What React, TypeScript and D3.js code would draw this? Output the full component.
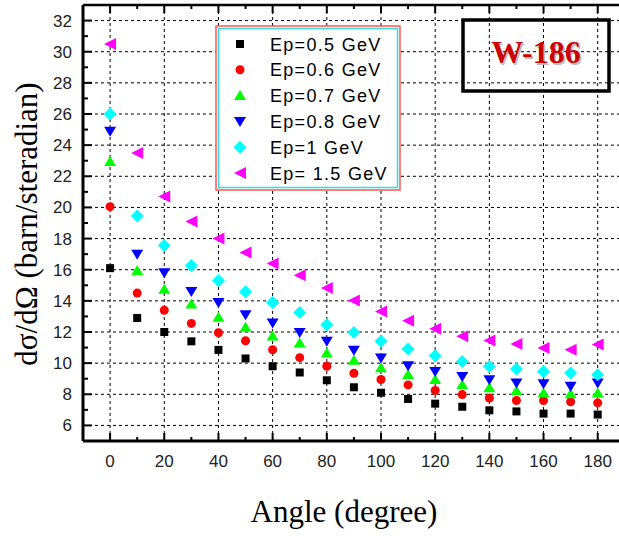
import React from 'react';
import * as d3 from 'd3';

const angles = [0, 10, 20, 30, 40, 50, 60, 70, 80, 90, 100, 110, 120, 130, 140, 150, 160, 170, 180];
const ep05 = [16.1, 12.9, 12.0, 11.4, 10.85, 10.3, 9.8, 9.4, 8.9, 8.45, 8.1, 7.7, 7.4, 7.2, 6.97, 6.9, 6.76, 6.76, 6.7];
const ep06 = [20.05, 14.5, 13.4, 12.55, 11.95, 11.44, 10.86, 10.35, 9.8, 9.35, 8.95, 8.6, 8.25, 7.98, 7.76, 7.6, 7.6, 7.52, 7.45];
const ep07 = [22.95, 15.95, 14.75, 13.8, 12.95, 12.3, 11.75, 11.3, 10.65, 10.18, 9.7, 9.27, 8.95, 8.62, 8.42, 8.23, 8.08, 8.04, 8.08];
const ep08 = [24.9, 17.0, 15.8, 14.6, 13.9, 13.1, 12.58, 11.97, 11.4, 10.82, 10.33, 9.84, 9.47, 9.15, 8.94, 8.73, 8.68, 8.51, 8.73];
const ep10 = [26.0, 19.45, 17.55, 16.27, 15.3, 14.58, 13.9, 13.26, 12.47, 11.97, 11.4, 10.91, 10.48, 10.11, 9.79, 9.62, 9.47, 9.37, 9.26];
const ep15 = [30.5, 23.5, 20.7, 19.1, 18.0, 17.1, 16.4, 15.65, 14.82, 14.03, 13.32, 12.73, 12.21, 11.72, 11.46, 11.23, 10.97, 10.86, 11.19];

const seriesNames = ['Ep=0.5 GeV', 'Ep=0.6 GeV', 'Ep=0.7 GeV', 'Ep=0.8 GeV', 'Ep=1 GeV', 'Ep= 1.5 GeV'];
const seriesValues = [ep05, ep06, ep07, ep08, ep10, ep15];
const seriesColors = ['#000000', '#ff0000', '#00ff00', '#0000ff', '#00ffff', '#ff00ff'];
const seriesShapes = ['square', 'circle', 'up', 'down', 'diamond', 'left'];

const xTicks = [0, 20, 40, 60, 80, 100, 120, 140, 160, 180];
const xMinor = [-10, 10, 30, 50, 70, 90, 110, 130, 150, 170, 190];
const yTicks = [6, 8, 10, 12, 14, 16, 18, 20, 22, 24, 26, 28, 30, 32];
const yMinor = [5, 7, 9, 11, 13, 15, 17, 19, 21, 23, 25, 27, 29, 31, 33];

const W = 619;
const H = 536;

function shapePath(shape: string): string {
  const p = d3.path();
  if (shape === 'square') {
    p.rect(-4, -4, 8, 8);
  } else if (shape === 'circle') {
    p.arc(0, 0, 4.5, 0, Math.PI * 2);
  } else if (shape === 'up') {
    p.moveTo(0, -5.5); p.lineTo(6, 4.5); p.lineTo(-6, 4.5); p.closePath();
  } else if (shape === 'down') {
    p.moveTo(0, 5.5); p.lineTo(6, -4.5); p.lineTo(-6, -4.5); p.closePath();
  } else if (shape === 'diamond') {
    p.moveTo(0, -6.5); p.lineTo(6.5, 0); p.lineTo(0, 6.5); p.lineTo(-6.5, 0); p.closePath();
  } else if (shape === 'left') {
    p.moveTo(-6, 0); p.lineTo(6, -6); p.lineTo(6, 6); p.closePath();
  }
  return p.toString();
}

export default function App() {
  const x = d3.scaleLinear().domain([-10, 190]).range([83, 624.8]);
  const y = d3.scaleLinear().domain([5, 33]).range([441, 5]);
  const [x0, x1] = x.range();
  const [yb, yt] = y.range();
  const tickFont = "'Liberation Sans Narrow', 'Arial Narrow', Arial, sans-serif";

  return (
    <svg width={W} height={H} style={{ position: 'absolute', left: 0, top: 0, background: '#fff' }}>
      <defs>
        <clipPath id="plotclip">
          <rect x={x0} y={yt} width={x1 - x0} height={yb - yt} />
        </clipPath>
      </defs>
      <rect x={0} y={0} width={W} height={H} fill="#fff" />
      {/* grid */}
      <g stroke="#000" strokeWidth={1} strokeDasharray="3,3">
        {xTicks.map((t) => (
          <line key={'gx' + t} x1={x(t)} x2={x(t)} y1={yt} y2={yb} />
        ))}
        {yTicks.map((t) => (
          <line key={'gy' + t} x1={x0} x2={x1} y1={y(t)} y2={y(t)} />
        ))}
      </g>
      {/* title box */}
      <rect x={463} y={20} width={146} height={71} fill="none" stroke="#000" strokeWidth={3.5} />
      <text x={537.5} y={64.5} textAnchor="middle" fontFamily="'Liberation Serif', 'Times New Roman', serif" fontWeight="bold" fontSize={32} fill="#bbb">W-186</text>
      <text x={536} y={63} textAnchor="middle" fontFamily="'Liberation Serif', 'Times New Roman', serif" fontWeight="bold" fontSize={32} fill="#cc0000">W-186</text>
      {/* axes */}
      <g stroke="#000" fill="none">
        <line x1={x0} x2={x1} y1={yb} y2={yb} strokeWidth={3} />
        <line x1={x0} x2={x1} y1={yt} y2={yt} strokeWidth={2.5} />
        <line x1={x0} x2={x0} y1={yt} y2={yb} strokeWidth={3} />
        {xTicks.map((t) => (
          <g key={'tx' + t}>
            <line x1={x(t)} x2={x(t)} y1={yb} y2={yb - 8} strokeWidth={2} />
            <line x1={x(t)} x2={x(t)} y1={yt} y2={yt + 8} strokeWidth={2} />
          </g>
        ))}
        {xMinor.map((t) => (
          <g key={'mx' + t}>
            <line x1={x(t)} x2={x(t)} y1={yb} y2={yb - 4} strokeWidth={2} />
            <line x1={x(t)} x2={x(t)} y1={yt} y2={yt + 4} strokeWidth={2} />
          </g>
        ))}
        {yTicks.map((t) => (
          <line key={'ty' + t} x1={x0} x2={x0 + 9} y1={y(t)} y2={y(t)} strokeWidth={2} />
        ))}
        {yMinor.map((t) => (
          <line key={'my' + t} x1={x0} x2={x0 + 5} y1={y(t)} y2={y(t)} strokeWidth={2} />
        ))}
      </g>
      {/* tick labels */}
      <g fontFamily={tickFont} fontSize={17} fill="#222">
        {xTicks.map((t) => (
          <text key={'lx' + t} x={x(t)} y={467} textAnchor="middle">{t}</text>
        ))}
        {yTicks.map((t) => (
          <text key={'ly' + t} x={72} y={y(t) + 6} textAnchor="end">{t}</text>
        ))}
      </g>
      {/* data */}
      <g clipPath="url(#plotclip)">
        {seriesValues.map((vals, si) => (
          <g key={'s' + si} fill={seriesColors[si]}>
            {vals.map((v, i) => (
              <path key={i} d={shapePath(seriesShapes[si])} transform={`translate(${x(angles[i])},${y(v)})`} />
            ))}
          </g>
        ))}
      </g>
      {/* legend */}
      <rect x={216} y={26} width={184} height={164} fill="#fff" stroke="#ff5555" strokeWidth={1.5} />
      <rect x={218.5} y={28.5} width={179} height={159} fill="none" stroke="#33dddd" strokeWidth={1.5} />
      {seriesNames.map((name, i) => {
        const ly = 44 + i * 25.8;
        return (
          <g key={'lg' + i}>
            <path d={shapePath(seriesShapes[i])} transform={`translate(240,${ly})`} fill={seriesColors[i]} />
            <text x={270} y={ly + 6.5} fontFamily="Arial, 'Liberation Sans', sans-serif" fontSize={18} letterSpacing={1.3} fill="#000">{name}</text>
          </g>
        );
      })}
      {/* axis titles */}
      <text x={344} y={522} textAnchor="middle" fontFamily="'Liberation Serif', 'Times New Roman', serif" fontSize={31} fill="#000">Angle (degree)</text>
      <text transform="translate(37,224) rotate(-90)" textAnchor="middle" fontFamily="'Liberation Serif', 'Times New Roman', serif" fontSize={31} fill="#000">dσ/dΩ (barn/steradian)</text>
    </svg>
  );
}
